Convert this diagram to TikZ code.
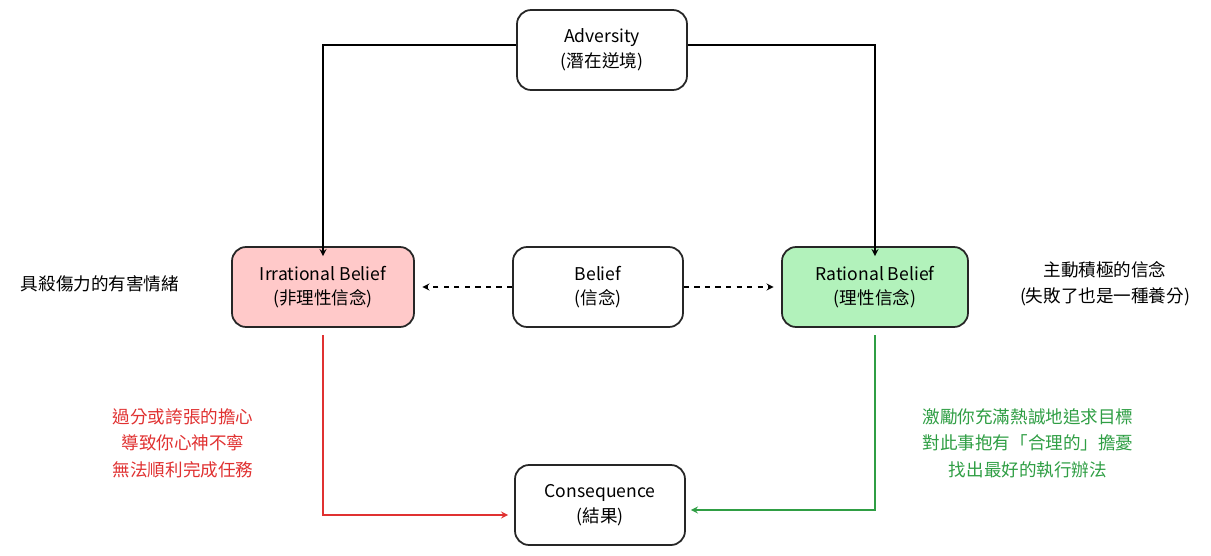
\documentclass[tikz,border=0pt]{standalone}
\usepackage{fontspec}
\setmainfont{Noto Sans CJK TC}
\usetikzlibrary{positioning}
\definecolor{irrfill}{HTML}{FFC9C9}
\definecolor{ratfill}{HTML}{B2F2BB}
\definecolor{redtxt}{HTML}{E03131}
\definecolor{greentxt}{HTML}{2F9E44}
\tikzset{
  box/.style={draw=black!85, line width=1pt, rounded corners=8pt, minimum width=3.4cm, minimum height=1.6cm, align=center, font=\fontsize{10}{14}\selectfont},
  note/.style={align=center, font=\fontsize{10}{15}\selectfont},
  link/.style={->, line width=0.8pt},
}
\begin{document}
\begin{tikzpicture}[x=0.02cm, y=-0.02cm, >=stealth]
	\useasboundingbox (0,0) rectangle (1211,555);
	\node[box] (adv) at (602,50) {Adversity\\(潛在逆境)};
	\node[box, fill=irrfill, minimum width=3.64cm] (irr) at (323,287) {Irrational Belief\\(非理性信念)};
	\node[box] (bel) at (598,287) {Belief\\(信念)};
	\node[box, fill=ratfill, minimum width=3.72cm] (rat) at (875,287) {Rational Belief\\(理性信念)};
	\node[box] (con) at (600,505) {Consequence\\(結果)};
	\node[note] (harm) at (100,284) {具殺傷力的有害情緒};
	\node[note] (good) at (1105,284) {主動積極的信念\\(失敗了也是一種養分)};
	\node[note, text=redtxt] (rnote) at (183,443) {過分或誇張的擔心\\導致你心神不寧\\無法順利完成任務};
	\node[note, text=greentxt] (gnote) at (1028,443) {激勵你充滿熱誠地追求目標\\對此事抱有「合理的」擔憂\\找出最好的執行辦法};

	\draw[link] (adv.west |- 0,45) -| ([yshift=-0.2cm]irr.north);
	\draw[link] (adv.east |- 0,45) -| ([yshift=-0.2cm]rat.north);
	\draw[link, dashed] (bel.west) -- ([xshift=0.15cm]irr.east);
	\draw[link, dashed] (bel.east) -- ([xshift=-0.15cm]rat.west);
	\draw[link, redtxt] ([yshift=-0.15cm]irr.south) |- ([xshift=-0.12cm]con.west |- 0,515);
	\draw[link, greentxt] ([yshift=-0.15cm]rat.south) |- ([xshift=0.1cm]con.east |- 0,510);
\end{tikzpicture}
\end{document}
